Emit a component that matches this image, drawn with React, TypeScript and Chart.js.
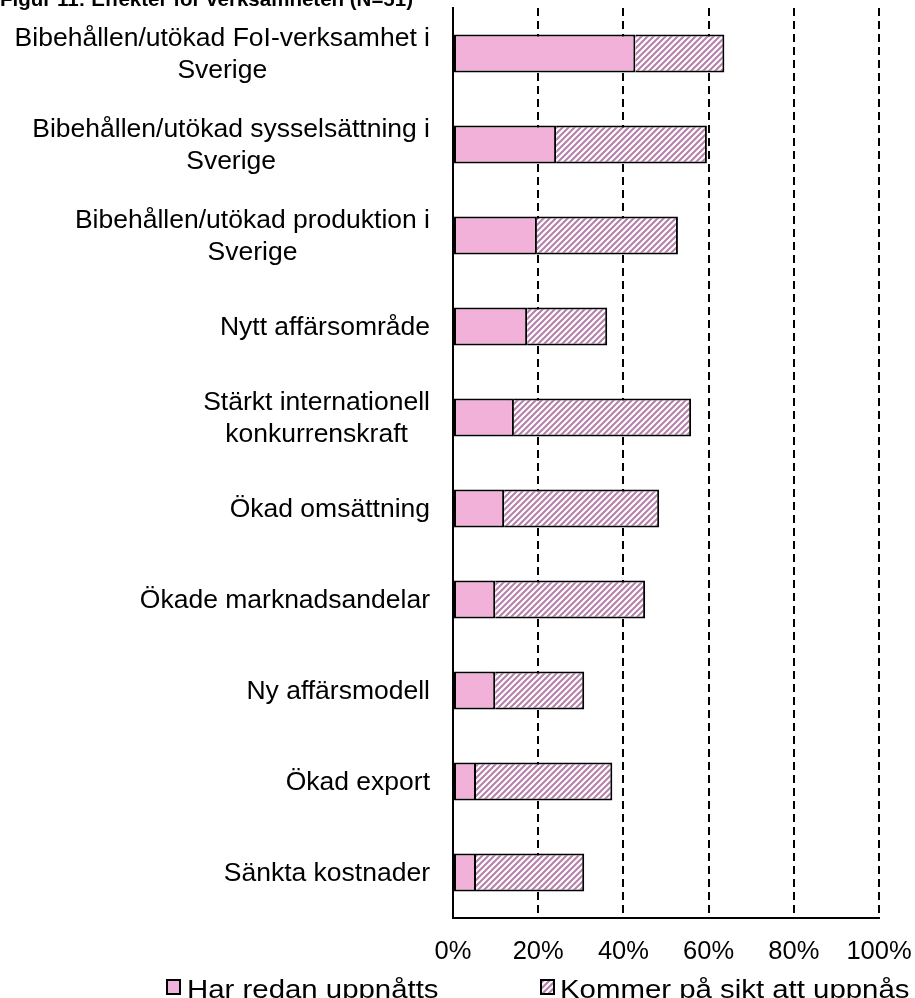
import React, { useEffect, useRef } from "react";
import { Chart, registerables } from "chart.js";

Chart.register(...registerables);

const titleText = "Figur 11: Effekter för verksamheten (N=51)";

const categories: string[][] = [
  ["Bibehållen/utökad FoI-verksamhet i", "Sverige"],
  ["Bibehållen/utökad sysselsättning i", "Sverige"],
  ["Bibehållen/utökad produktion i", "Sverige"],
  ["Nytt affärsområde"],
  ["Stärkt internationell", "konkurrenskraft"],
  ["Ökad omsättning"],
  ["Ökade marknadsandelar"],
  ["Ny affärsmodell"],
  ["Ökad export"],
  ["Sänkta kostnader"],
];

const seriesNames = ["Har redan uppnåtts", "Kommer på sikt att uppnås"];

const alreadyAchieved = [42.8, 24.2, 19.7, 17.4, 14.3, 12.0, 9.9, 9.9, 5.4, 5.4];
const futureAchieved = [20.9, 35.4, 33.1, 18.8, 41.6, 36.4, 35.2, 20.9, 32.0, 25.4];

const xTickValues = [0, 20, 40, 60, 80, 100];

const FONT = "'Liberation Sans', Arial, sans-serif";
const PINK = "#f1b1d9";
const HATCH = "#b581aa";

function makeHatch(ctx: CanvasRenderingContext2D): CanvasPattern | string {
  const size = 6;
  const pc = document.createElement("canvas");
  pc.width = size;
  pc.height = size;
  const p = pc.getContext("2d");
  if (!p) return HATCH;
  p.fillStyle = "#ffffff";
  p.fillRect(0, 0, size, size);
  p.strokeStyle = HATCH;
  p.lineWidth = 2.1;
  p.beginPath();
  p.moveTo(-1, size + 1);
  p.lineTo(size + 1, -1);
  p.moveTo(-1, 1);
  p.lineTo(1, -1);
  p.moveTo(size - 1, size + 1);
  p.lineTo(size + 1, size - 1);
  p.stroke();
  return ctx.createPattern(pc, "repeat") || HATCH;
}

export default function App() {
  const ref = useRef<HTMLCanvasElement | null>(null);

  useEffect(() => {
    const canvas = ref.current;
    if (!canvas) return;
    const ctx = canvas.getContext("2d");
    if (!ctx) return;
    const hatch = makeHatch(ctx);

    const textPlugin = {
      id: "customText",
      afterDraw(chart: any) {
        const c = chart.ctx as CanvasRenderingContext2D;
        const area = chart.chartArea;
        const yScale = chart.scales.y;
        c.save();
        // title (partly cut off at the top)
        c.fillStyle = "#000";
        c.font = `bold 20.5px ${FONT}`;
        c.textAlign = "left";
        c.textBaseline = "alphabetic";
        c.fillText(titleText, 0, 6);

        // category labels
        c.font = `26.5px ${FONT}`;
        c.textAlign = "center";
        c.textBaseline = "middle";
        const right = area.left - 23;
        const lh = 32.5;
        categories.forEach((lines, i) => {
          const yc = yScale.getPixelForValue(i);
          const w = Math.max(...lines.map((l) => c.measureText(l).width));
          const cx = right - w / 2;
          lines.forEach((l, j) => {
            c.fillText(l, cx, yc + (j - (lines.length - 1) / 2) * lh + 1);
          });
        });

        // legend
        const items = [
          { box: 167, text: 187, fill: PINK as any },
          { box: 541, text: 560, fill: hatch as any },
        ];
        c.textAlign = "left";
        c.textBaseline = "alphabetic";
        c.font = `26px ${FONT}`;
        items.forEach((it, i) => {
          c.fillStyle = it.fill;
          c.fillRect(it.box, 980, 13, 14);
          c.strokeStyle = "#000";
          c.lineWidth = 2;
          c.strokeRect(it.box, 980, 13, 14);
          c.save();
          c.fillStyle = "#000";
          c.translate(it.text, 998);
          c.scale(1.13, 1);
          c.fillText(seriesNames[i], 0, 0);
          c.restore();
        });
        c.restore();
      },
    };

    const chart = new Chart(canvas, {
      type: "bar",
      data: {
        labels: categories.map((l) => l.join(" ")),
        datasets: [
          {
            label: seriesNames[0],
            data: alreadyAchieved,
            backgroundColor: PINK,
            borderColor: "#000",
            borderWidth: 2,
            borderSkipped: false,
            categoryPercentage: 1,
            barPercentage: 0.42,
          },
          {
            label: seriesNames[1],
            data: futureAchieved,
            backgroundColor: hatch as any,
            borderColor: "#000",
            borderWidth: 2,
            borderSkipped: "start",
            categoryPercentage: 1,
            barPercentage: 0.42,
          },
        ],
      },
      options: {
        indexAxis: "y",
        responsive: false,
        animation: false,
        layout: { padding: { top: 8, right: 36, bottom: 0, left: 0 } },
        plugins: {
          legend: { display: false },
          title: { display: false },
          tooltip: { enabled: false },
        },
        scales: {
          x: {
            stacked: true,
            min: 0,
            max: 100,
            afterBuildTicks: (scale: any) => {
              scale.ticks = xTickValues.map((v) => ({ value: v }));
            },
            ticks: {
              callback: (v: any) => `${v}%`,
              font: { size: 25.5, family: FONT },
              color: "#000",
              padding: 19,
              maxRotation: 0,
            },
            grid: {
              color: (ctx: any) => (ctx.tick && ctx.tick.value === 0 ? "rgba(0,0,0,0)" : "#000"),
              lineWidth: 2,
              drawTicks: false,
            },
            border: { display: true, color: "#000", width: 2, dash: [8, 5] },
            afterFit: (scale: any) => {
              scale.height = 80;
              scale.paddingLeft = 0;
              scale.paddingRight = 0;
            },
          },
          y: {
            stacked: true,
            ticks: { display: false },
            grid: { display: false, drawTicks: false },
            border: { display: true, color: "#000", width: 2 },
            afterFit: (scale: any) => {
              scale.width = 453;
            },
          },
        },
      },
      plugins: [textPlugin],
    });

    return () => chart.destroy();
  }, []);

  return (
    <canvas
      ref={ref}
      width={915}
      height={998}
      style={{ position: "absolute", left: 0, top: 0, display: "block" }}
    />
  );
}
